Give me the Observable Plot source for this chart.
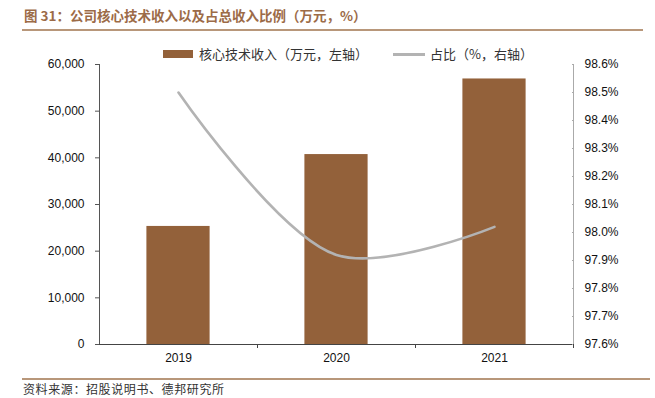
<!DOCTYPE html>
<html><head><meta charset="utf-8">
<script src="https://cdn.jsdelivr.net/npm/d3@7"></script>
<script src="https://cdn.jsdelivr.net/npm/@observablehq/plot@0.6"></script>
<style>
body{margin:0;background:#fff;width:655px;height:398px;overflow:hidden;position:relative;font-family:"Noto Sans CJK SC",sans-serif;}
#title{position:absolute;left:24px;top:6px;font-size:13.5px;font-weight:bold;color:#9c6b47;white-space:nowrap;line-height:18px;}
.hr{position:absolute;left:22px;height:2px;background:#b8977a;}
#foot{position:absolute;left:23px;top:382px;font-size:12px;color:#333;white-space:nowrap;line-height:13px;letter-spacing:0.6px;}
#chart{position:absolute;left:0;top:0;}
.leg{position:absolute;font-size:13px;color:#333;white-space:nowrap;line-height:16px;}
.sw{position:absolute;}
</style></head><body>
<div id="chart"></div>
<div id="title"></div>
<div class="hr" style="top:29px;width:621px"></div>
<div class="hr" style="top:378px;width:628px"></div>
<div id="foot"></div>
<div class="sw" style="left:163px;top:50px;width:30px;height:8px;background:#93613a"></div>
<div class="leg" id="leg1" style="left:199px;top:46px"></div>
<div class="sw" style="left:393px;top:53px;width:32px;height:2.5px;background:#b3b3b3"></div>
<div class="leg" id="leg2" style="left:430px;top:46px"></div>
<script>
const titleText = "图 31：公司核心技术收入以及占总收入比例（万元，%）";
const footText = "资料来源：招股说明书、德邦研究所";
const seriesBar = "核心技术收入（万元，左轴）";
const seriesLine = "占比（%，右轴）";
const years = [2019, 2020, 2021];
const revenue = [25300, 40700, 56900];
const share = [98.50, 97.92, 98.02];
const leftTicks = [0, 10000, 20000, 30000, 40000, 50000, 60000];
const rightTicks = [97.6, 97.7, 97.8, 97.9, 98.0, 98.1, 98.2, 98.3, 98.4, 98.5, 98.6];

document.getElementById("title").textContent = titleText;
document.getElementById("foot").textContent = footText;
document.getElementById("leg1").textContent = seriesBar;
document.getElementById("leg2").textContent = seriesLine;

const pMin = 97.6, pMax = 98.6, yMax = 60000;
const toLeft = p => (p - pMin) / (pMax - pMin) * yMax;
const data = years.map((y, i) => ({year: y, rev: revenue[i], pct: share[i]}));

const chart = Plot.plot({
  width: 655, height: 370,
  marginTop: 64, marginBottom: 26, marginLeft: 99, marginRight: 82,
  style: {fontFamily: "'Liberation Sans', Arial, sans-serif", fontSize: "12px", color: "#111"},
  x: {type: "linear", domain: [2018.5, 2021.5]},
  y: {domain: [0, yMax]},
  marks: [
    Plot.rectY(data, {x1: d => d.year - 0.2, x2: d => d.year + 0.2, y: "rev", fill: "#93613a"}),
    Plot.line(data, {x: "year", y: d => toLeft(d.pct), stroke: "#b3b3b3", strokeWidth: 2.6, curve: "catmull-rom"}),
    Plot.ruleX([2018.5], {stroke: "#555", strokeWidth: 1}),
    Plot.ruleX([2021.5], {stroke: "#aaa", strokeWidth: 1}),
    Plot.ruleY([0], {stroke: "#444", strokeWidth: 1.2}),
    Plot.axisY({anchor: "left", ticks: leftTicks, tickFormat: d3.format(","), tickSize: 4, tickPadding: 11, stroke: "#555", label: null}),
    Plot.axisY(rightTicks.map(toLeft), {anchor: "right", tickFormat: v => (pMin + v / yMax * (pMax - pMin)).toFixed(1) + "%", tickSize: -2, tickPadding: 13, stroke: "#aaa", label: null}),
    Plot.axisX([2019.5, 2020.5, 2021.5], {anchor: "bottom", tickSize: 4, tickFormat: () => "", stroke: "#444", label: null}),
    Plot.axisX(years, {anchor: "bottom", tickSize: 0, tickPadding: 9, tickFormat: d => String(d), label: null})
  ]
});
document.getElementById("chart").appendChild(chart);
</script>
</body></html>
